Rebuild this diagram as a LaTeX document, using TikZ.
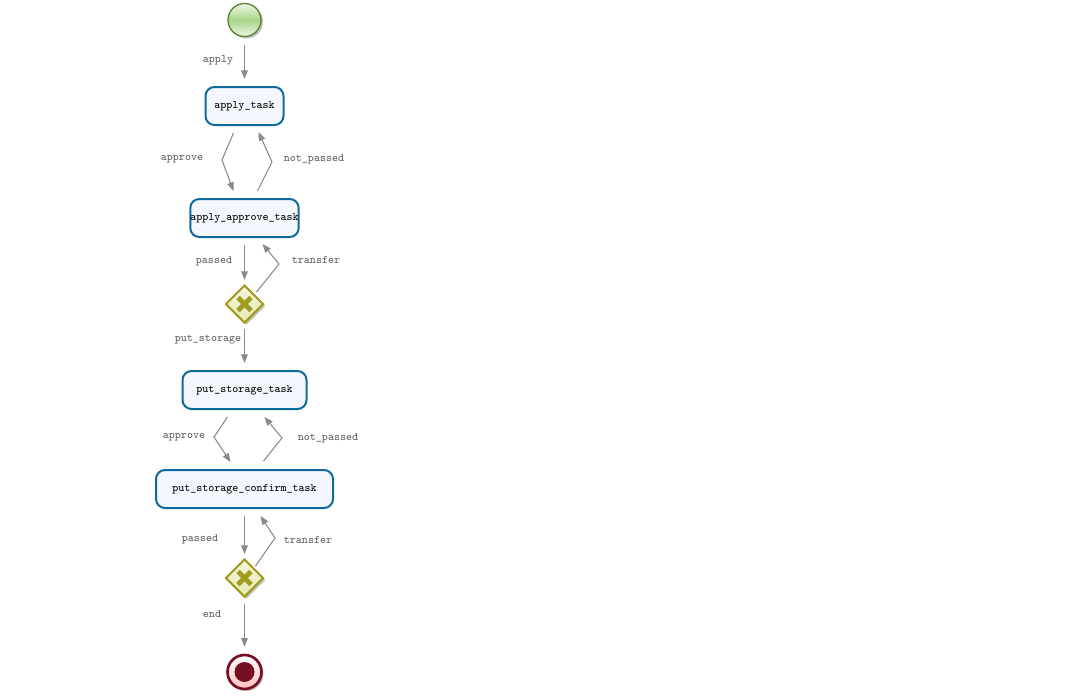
\documentclass[tikz,border=0pt]{standalone}
\usetikzlibrary{shapes.geometric,arrows.meta,calc,shadows}
\definecolor{taskblue}{HTML}{0F6A9C}
\definecolor{taskfill}{HTML}{F5F7FF}
\definecolor{flowgray}{HTML}{8A8A8A}
\definecolor{labelgray}{HTML}{5E5E5E}
\definecolor{gwline}{HTML}{A09A1E}
\definecolor{gwfill}{HTML}{E6EAB4}
\definecolor{startline}{HTML}{5E8030}
\definecolor{startmid}{HTML}{A8D488}
\definecolor{starttop}{HTML}{EEF8E6}
\definecolor{endred}{HTML}{741022}
\begin{document}
\begin{tikzpicture}[x=0.75pt,y=-0.75pt,
  font=\ttfamily\fontsize{8.6pt}{10pt}\selectfont,
  softshadow/.style={drop shadow={shadow xshift=1.5pt,shadow yshift=-1.5pt,opacity=0.25,fill=black}},
  task/.style={draw=taskblue,line width=1.5pt,fill=taskfill,rounded corners=6.75pt,
    minimum height=28.5pt,inner sep=0pt},
  gateway/.style={diamond,draw=gwline,line width=1.5pt,top color=gwfill!50!white,bottom color=gwfill,
    minimum width=28.5pt,minimum height=28.5pt,inner sep=0pt,softshadow},
  gwcross/.style={draw=gwline,line width=3.6pt},
  flow/.style={draw=flowgray,line width=0.8pt,-{Triangle[length=6.5pt,width=5pt]}},
  flowlabel/.style={text=labelgray,inner sep=1pt}]
\useasboundingbox (0,0) rectangle (1065,700);

% events
\node[circle,minimum size=24.75pt,inner sep=0pt,draw=startline,line width=1pt,
  top color=starttop,bottom color=starttop,middle color=startmid,softshadow]
  (start) at (244.5,20) {};
\node[circle,minimum size=25.5pt,inner sep=0pt,draw=endred,line width=2pt,
  top color=white,bottom color=red!25!white,softshadow] (end) at (244.5,672) {};
\fill[endred] (end.center) circle (7.5pt);

% tasks
\node[task,minimum width=58.5pt] (t1) at (244.5,106) {apply\_task};
\node[task,minimum width=81pt] (t2) at (244.5,218) {apply\_approve\_task};
\node[task,minimum width=93pt] (t3) at (244.5,390) {put\_storage\_task};
\node[task,minimum width=132.75pt] (t4) at (244.5,489) {put\_storage\_confirm\_task};

% exclusive gateways
\node[gateway] (g1) at (244.5,304) {};
\node[gateway] (g2) at (244.5,578) {};
\foreach \g in {g1,g2}{
  \draw[gwcross] ($(\g.center)+(-6.5,-6.5)$) -- ($(\g.center)+(6.5,6.5)$);
  \draw[gwcross] ($(\g.center)+(-6.5,6.5)$) -- ($(\g.center)+(6.5,-6.5)$);
}

% bend points
\coordinate (b1) at (222,160);
\coordinate (b2) at (272,162);
\coordinate (b3) at (279,264);
\coordinate (b4) at (214,437);
\coordinate (b5) at (282,438);
\coordinate (b6) at (275,538);

% sequence flows
\draw[flow] ($(start.south)+(0,8)$) -- ($(t1.north)+(0,-7)$);
\draw[flow] ($(t1.south)+(-11,7)$) -- (b1) -- ($(t2.north)+(-11,-7)$);
\draw[flow] ($(t2.north)+(13,-7)$) -- (b2) -- ($(t1.south)+(14,6)$);
\draw[flow] ($(t2.south)+(0,7)$) -- ($(g1.north)+(0,-4)$);
\draw[flow] ($(g1.center)+(12,-12)$) -- (b3) -- ($(t2.south)+(18,6)$);
\draw[flow] ($(g1.south)+(0,5)$) -- ($(t3.north)+(0,-7)$);
\draw[flow] ($(t3.south)+(-17,7)$) -- (b4) -- ($(t4.north)+(-14,-7)$);
\draw[flow] ($(t4.north)+(19,-8)$) -- (b5) -- ($(t3.south)+(20,7)$);
\draw[flow] ($(t4.south)+(0,7)$) -- ($(g2.north)+(0,-4)$);
\draw[flow] ($(g2.center)+(11,-12)$) -- (b6) -- ($(t4.south)+(16,7)$);
\draw[flow] ($(g2.south)+(0,6)$) -- ($(end.north)+(0,-7)$);

% flow labels
\node[flowlabel] (l1) at (218,60.5) {apply};
\node[flowlabel] (l2) at (182,159.5) {approve};
\node[flowlabel] (l3) at (314,159.5) {not\_passed};
\node[flowlabel] (l4) at (214,261.5) {passed};
\node[flowlabel] (l5) at (316,259.5) {transfer};
\node[flowlabel] (l6) at (208,339.5) {put\_storage};
\node[flowlabel] (l7) at (184,437.5) {approve};
\node[flowlabel] (l8) at (328,438.5) {not\_passed};
\node[flowlabel] (l9) at (200,539.5) {passed};
\node[flowlabel] (l10) at (308,539.5) {transfer};
\node[flowlabel] (l11) at (212,614.5) {end};
\end{tikzpicture}
\end{document}
